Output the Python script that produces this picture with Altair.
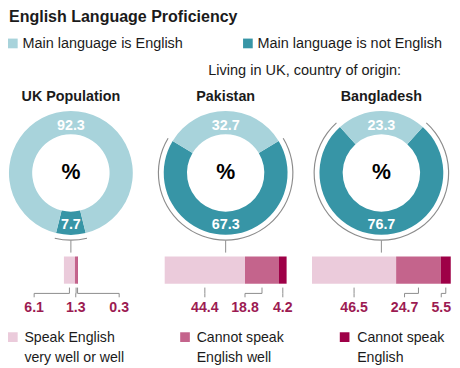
import math
import altair as alt
import pandas as pd

# ---------------- data ----------------
panels = ["UK Population", "Pakistan", "Bangladesh"]
main_english = [92.3, 32.7, 23.3]
main_not_english = [7.7, 67.3, 76.7]
speak_well = [6.1, 44.4, 46.5]
cannot_well = [1.3, 18.8, 24.7]
cannot_speak = [0.3, 4.2, 5.5]
lang_labels = ["Main language is English", "Main language is not English"]
prof_labels = ["Speak English\nvery well or well", "Cannot speak\nEnglish well", "Cannot speak\nEnglish"]
title_text = "English Language Proficiency"
subtitle_text = "Living in UK, country of origin:"

# ---------------- style ----------------
FONT = "Liberation Sans"
INK = "#1b1b1b"
LINE = "#8c8c8c"
NUM = "#9c1b52"
lang_colors = ["#a8d3db", "#3795a6"]
prof_colors = ["#ebcbdb", "#c4648c", "#9e0047"]

# ---------------- layout (reference pixels) ----------------
W, H = 452, 360
X0, X1, Y0, Y1 = 2, 461, 2.5, 366.5
S = W / (X1 - X0)
XS = alt.Scale(domain=[X0, X1])
YS = alt.Scale(domain=[Y0, Y1], reverse=True)
THETA = alt.Scale(domain=[0, 100], range=[0, 2 * math.pi])
CX = [67, 227, 388]
CY = 169
R_OUT, R_IN, R_RING = 64, 40, 69.5
PX_PER_PCT = 1.87
BAR_TOP, BAR_BOT = 255, 283
label_shift = [[-19.5, -0.2, 23], [0, -9.4, 0], [0, -7.7, -2.5]]

COLOR = alt.Scale(domain=lang_labels + prof_labels, range=lang_colors + prof_colors)


def xq(f="x"):
    return alt.X(f"{f}:Q", scale=XS, axis=None)


def yq(f="y"):
    return alt.Y(f"{f}:Q", scale=YS, axis=None)


def text_layer(df, size, weight="normal", align="left", color=INK, **kw):
    return alt.Chart(df).mark_text(
        font=FONT, fontSize=size, fontWeight=weight, align=align,
        baseline="alphabetic", color=color, **kw
    ).encode(x=xq(), y=yq(), text="text:N")


layers = []

# ---------- headings & top legend ----------
layers.append(text_layer(pd.DataFrame(dict(x=[3], y=[14], text=[title_text])), 16.3, "bold"))
leg1 = pd.DataFrame(dict(cat=lang_labels, x0=[2, 245], x1=[12, 255], y0=[30.7, 30.7], y1=[40.7, 40.7]))
layers.append(alt.Chart(leg1).mark_rect().encode(
    x=xq("x0"), x2="x1:Q", y=yq("y0"), y2="y1:Q",
    color=alt.Color("cat:N", scale=COLOR, legend=None)))
layers.append(text_layer(pd.DataFrame(dict(x=[17, 260], y=[40.7, 40.7], text=lang_labels)), 14.7))
layers.append(text_layer(pd.DataFrame(dict(x=[209], y=[68.3], text=[subtitle_text])), 14.8))

# ---------- donuts ----------
rows = []
for i, p in enumerate(panels):
    d, e = main_not_english[i], main_english[i]
    rows.append(dict(panel=p, cat=lang_labels[1], value=d, t0=50 - d / 2, t1=50 + d / 2,
                     x=CX[i], y=CY, ly=CY + 58))
    rows.append(dict(panel=p, cat=lang_labels[0], value=e, t0=50 + d / 2, t1=50 + d / 2 + e,
                     x=CX[i], y=CY, ly=CY - 44))
donut_df = pd.DataFrame(rows)
panel_df = pd.DataFrame(dict(text=panels, x=CX, y=[95] * 3))

layers.append(alt.Chart(donut_df).mark_arc(innerRadius=R_IN * S, outerRadius=R_OUT * S).encode(
    x=xq(), y=yq(),
    theta=alt.Theta("t0:Q", scale=THETA, stack=None), theta2="t1:Q",
    color=alt.Color("cat:N", scale=COLOR, legend=None)))
layers.append(alt.Chart(donut_df).transform_filter(
    alt.datum.cat == lang_labels[1]).mark_arc(
    innerRadius=(R_RING - 0.6) * S, outerRadius=(R_RING + 0.6) * S, color=LINE).encode(
    x=xq(), y=yq(), theta=alt.Theta("t0:Q", scale=THETA, stack=None), theta2="t1:Q"))
layers.append(alt.Chart(panel_df).mark_rule(color=LINE, strokeWidth=1).encode(
    x=xq(), y=alt.Y(datum=CY + R_RING, scale=YS, axis=None), y2=alt.Y2(datum=251)))
layers.append(alt.Chart(donut_df).mark_text(
    font=FONT, fontSize=14.6, fontWeight="bold", color="white", align="center",
    baseline="alphabetic").encode(
    x=xq(), y=yq("ly"), text=alt.Text("value:Q", format=".1f")))
layers.append(alt.Chart(panel_df).mark_text(
    font=FONT, fontSize=21.7, fontWeight="bold", color="black", align="center",
    baseline="alphabetic", text="%").encode(
    x=xq(), y=alt.Y(datum=CY + 6.5, scale=YS, axis=None)))
layers.append(text_layer(panel_df, 14.6, "bold", "center"))

# ---------- stacked bars ----------
for i in range(3):
    vals = [speak_well[i], cannot_well[i], cannot_speak[i]]
    total = sum(vals)
    starts = [0, vals[0], vals[0] + vals[1]]
    df = pd.DataFrame(dict(cat=prof_labels, value=vals, start=starts,
                           end=[s + v for s, v in zip(starts, vals)]))
    df["mid"] = (df["start"] + df["end"]) / 2
    df["lab"] = df["mid"] + label_shift[i]
    bx = alt.Scale(domain=[total / 2 + (X0 - CX[i]) / PX_PER_PCT,
                           total / 2 + (X1 - CX[i]) / PX_PER_PCT])
    base = alt.Chart(df)
    rects = base.mark_rect().encode(
        x=alt.X("start:Q", scale=bx, axis=None), x2="end:Q",
        y=alt.Y(datum=BAR_TOP, scale=YS, axis=None), y2=alt.Y2(datum=BAR_BOT),
        color=alt.Color("cat:N", scale=COLOR, legend=None))
    r1 = base.mark_rule(color=LINE).encode(
        x=alt.X("mid:Q", scale=bx, axis=None),
        y=alt.Y(datum=287, scale=YS, axis=None), y2=alt.Y2(datum=293))
    r2 = base.mark_rule(color=LINE).encode(
        x=alt.X("mid:Q", scale=bx, axis=None), x2="lab:Q",
        y=alt.Y(datum=293, scale=YS, axis=None))
    r3 = base.mark_rule(color=LINE).encode(
        x=alt.X("lab:Q", scale=bx, axis=None),
        y=alt.Y(datum=293, scale=YS, axis=None), y2=alt.Y2(datum=297))
    txt = base.mark_text(font=FONT, fontSize=14.4, fontWeight="bold", color=NUM,
                         align="center", baseline="alphabetic").encode(
        x=alt.X("lab:Q", scale=bx, axis=None),
        y=alt.Y(datum=312, scale=YS, axis=None),
        text=alt.Text("value:Q", format=".1f"))
    layers.append(alt.layer(rects, r1, r2, r3, txt))

# ---------- bottom legend ----------
leg2 = pd.DataFrame(dict(cat=prof_labels, x0=[2, 180, 345], x1=[12, 190, 355],
                         y0=[333] * 3, y1=[343] * 3))
layers.append(alt.Chart(leg2).mark_rect().encode(
    x=xq("x0"), x2="x1:Q", y=yq("y0"), y2="y1:Q",
    color=alt.Color("cat:N", scale=COLOR, legend=None)))
layers.append(text_layer(pd.DataFrame(dict(x=[19, 197, 363], y=[343.3] * 3, text=prof_labels)),
                         14.4, lineBreak="\n", lineHeight=19.8))

chart = alt.layer(*layers).resolve_scale(x="independent").properties(
    width=W, height=H, padding=0, autosize=alt.AutoSizeParams(type="none")
).configure_view(stroke=None)

chart.save("out.html", embed_options={"renderer": "svg", "actions": False})
